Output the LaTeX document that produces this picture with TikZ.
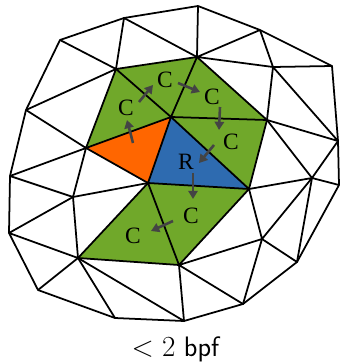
\documentclass[tikz,border=0pt]{standalone}
\usepackage{fontspec}
\newfontfamily\labelfont{Liberation Serif}
\usetikzlibrary{arrows.meta}
\definecolor{meshgreen}{RGB}{112,168,42}
\definecolor{meshorange}{RGB}{255,102,0}
\definecolor{meshblue}{RGB}{46,107,176}
\definecolor{arrowgray}{RGB}{68,68,68}
\begin{document}
\begin{tikzpicture}[x=0.03cm, y=-0.03cm, line width=1.5pt, line join=round,
  lbl/.style={font=\labelfont\fontsize{20}{20}\selectfont, inner sep=0pt},
  pass/.style={draw=arrowgray, line width=2.2pt, -{Triangle[length=7pt,width=8pt]}}]
  \useasboundingbox (0,0) rectangle (340,364);
  % outer ring
  \coordinate (t1) at (198,6); \coordinate (t2) at (124,18); \coordinate (t3) at (60,40); \coordinate (t4) at (260,30); \coordinate (t5) at (332,66);
  \coordinate (l1) at (26,110); \coordinate (l2) at (10,176); \coordinate (l3) at (9,233);
  \coordinate (b1) at (38,290); \coordinate (b2) at (115,318); \coordinate (b3) at (184,321); \coordinate (b4) at (243,304); \coordinate (b5) at (297,262);
  \coordinate (r1) at (338,141); \coordinate (r2) at (339,185);
  % inner vertices
  \coordinate (a) at (116,69); \coordinate (c) at (197,57); \coordinate (d) at (273,67); \coordinate (e) at (267,120);
  \coordinate (o) at (171,117); \coordinate (p) at (86,148); \coordinate (q) at (148,183); \coordinate (s) at (249,189);
  \coordinate (u) at (312,178); \coordinate (v) at (73,197); \coordinate (w) at (78,258); \coordinate (x) at (179,265); \coordinate (y) at (262,239);
  % coloured cells
  \fill[meshgreen] (a) -- (p) -- (o) -- cycle;
  \fill[meshgreen] (a) -- (c) -- (o) -- cycle;
  \fill[meshgreen] (c) -- (e) -- (o) -- cycle;
  \fill[meshgreen] (o) -- (e) -- (s) -- cycle;
  \fill[meshgreen] (q) -- (s) -- (x) -- cycle;
  \fill[meshgreen] (q) -- (x) -- (w) -- cycle;
  \fill[meshorange] (p) -- (q) -- (o) -- cycle;
  \fill[meshblue] (o) -- (q) -- (s) -- cycle;
  % mesh
  \draw (t1) -- (t2) -- (t3) -- (l1) -- (l2) -- (l3) -- (b1) -- (b2) -- (b3) -- (b4) -- (b5) -- (r2) -- (r1) -- (t5) -- (t4) -- cycle;
  \draw (t3) -- (a) -- (t2) -- (c) -- (t1);
  \draw (t4) -- (c) -- (d) -- (t4);
  \draw (t5) -- (d) -- (r1) -- (e) -- (d);
  \draw (a) -- (c) -- (o) -- (a);
  \draw (c) -- (e) -- (o);
  \draw (l1) -- (a) -- (p) -- (l1);
  \draw (p) -- (o) -- (q) -- (p);
  \draw (o) -- (s) -- (e);
  \draw (q) -- (s) -- (x) -- (q) -- (w) -- (x);
  \draw (l2) -- (p) -- (v) -- (l2);
  \draw (v) -- (q);
  \draw (l3) -- (v) -- (w) -- (l3);
  \draw (b1) -- (w) -- (b2);
  \draw (w) -- (b3) -- (x) -- (b4) -- (y) -- (x);
  \draw (s) -- (y) -- (u) -- (s);
  \draw (u) -- (b5) -- (y);
  \draw (r2) -- (u) -- (r1);
  \draw (e) -- (u);
  % labels
  \node[lbl] (c1) at (126,108) {C};
  \node[lbl] (c2) at (165,80) {C};
  \node[lbl] (c3) at (212,97) {C};
  \node[lbl] (c4) at (231,142) {C};
  \node[lbl] (rr) at (186,162) {R};
  \node[lbl] (c5) at (191,216) {C};
  \node[lbl] (c6) at (133,236) {C};
  % message passing
  \coordinate (s0) at (133,143); \coordinate (e0) at (127,120);
  \coordinate (s1) at (139,102); \coordinate (e1) at (153,85);
  \coordinate (s2) at (178,83);  \coordinate (e2) at (200,92);
  \coordinate (s3) at (220,107); \coordinate (e3) at (219,130);
  \coordinate (s4) at (214,145); \coordinate (e4) at (199,163);
  \coordinate (s5) at (193,173); \coordinate (e5) at (193,199);
  \coordinate (s6) at (173,221); \coordinate (e6) at (151,231);
  \draw[pass] (s0) -- (e0);
  \draw[pass] (s1) -- (e1);
  \draw[pass] (s2) -- (e2);
  \draw[pass] (s3) -- (e3);
  \draw[pass] (s4) -- (e4);
  \draw[pass] (s5) -- (e5);
  \draw[pass] (s6) -- (e6);
  \node[font=\fontsize{24}{28}\selectfont] (cap) at (176,349) {$<2$ \textsf{bpf}};
\end{tikzpicture}
\end{document}
